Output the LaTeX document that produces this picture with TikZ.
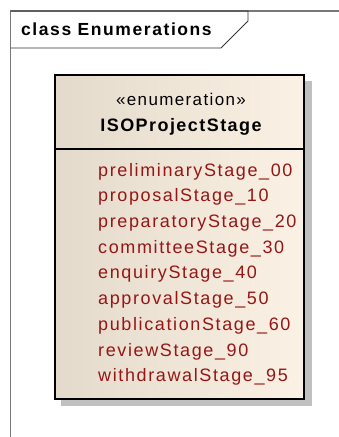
\documentclass[tikz,border=0pt]{standalone}
\usepackage{fontspec}
\setmainfont{Liberation Sans}
\newfontfamily\attrfont[LetterSpace=9]{Liberation Sans}
\newfontfamily\titlefont[LetterSpace=9]{Liberation Sans}
\newfontfamily\hdrfont[LetterSpace=8]{Liberation Sans}
\usetikzlibrary{shadings}
\definecolor{attrred}{RGB}{150,22,22}
\definecolor{fillL}{RGB}{228,218,203}
\definecolor{fillR}{RGB}{251,241,228}
\definecolor{shadowgray}{RGB}{192,192,192}
\definecolor{framegray}{RGB}{120,120,120}
\tikzset{
  attr/.style={anchor=base west, inner sep=0pt, text=attrred, font=\attrfont\fontsize{18}{18}\selectfont},
  hdr/.style={anchor=base, inner sep=0pt, text=black},
}
\begin{document}
\begin{tikzpicture}[x=1pt,y=-1pt]
\useasboundingbox (0,0) rectangle (339,437);
% frame
\draw[framegray, line width=1.2pt] (10.5,437) -- (10.5,11) -- (339,11);
\draw[black!80, line width=0.9pt] (10.5,11) -- (248,11) -- (248,21) -- (221,48) -- (10.5,48);
\node[anchor=base west, inner sep=0pt, font=\titlefont\bfseries\fontsize{17.5}{17.5}\selectfont] (title) at (21,35) {class Enumerations};
% shadow
\fill[shadowgray] (61,81) rectangle (312,406);
% box
\shade[left color=fillL, right color=fillR] (55,75) rectangle (304,399);
\draw[black, line width=2pt] (55,75) rectangle (304,399);
\draw[black, line width=1.8pt] (55,149) -- (304,149);
\node[hdr, font=\hdrfont\fontsize{17}{17}\selectfont] (stereo) at (181,105) {«enumeration»};
\node[hdr, font=\hdrfont\bfseries\fontsize{18}{18}\selectfont] (name) at (181,131) {ISOProjectStage};
\node[attr] (a1) at (98,176) {preliminaryStage\_00};
\node[attr] (a2) at (98,201.7) {proposalStage\_10};
\node[attr] (a3) at (98,227.4) {preparatoryStage\_20};
\node[attr] (a4) at (98,253) {committeeStage\_30};
\node[attr] (a5) at (98,278.8) {enquiryStage\_40};
\node[attr] (a6) at (98,304.5) {approvalStage\_50};
\node[attr] (a7) at (98,330.2) {publicationStage\_60};
\node[attr] (a8) at (98,356) {reviewStage\_90};
\node[attr] (a9) at (98,381.7) {withdrawalStage\_95};
\end{tikzpicture}
\end{document}
